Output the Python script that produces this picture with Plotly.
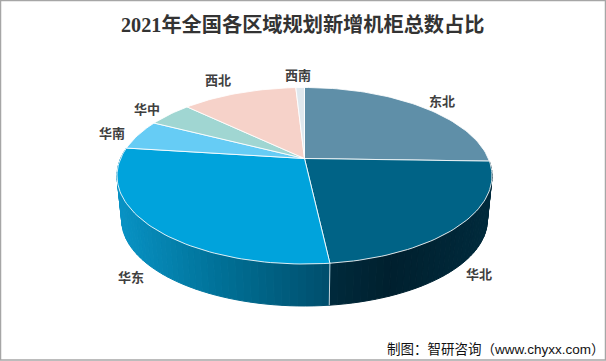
import math
import plotly.graph_objects as go

regions = ["东北", "华北", "华东", "华南", "华中", "西北", "西南"]
shares = [25.5, 22.75, 28.8, 5.5, 4.6, 12.0, 0.9]
top_colors = ["#5F8FA8", "#006386", "#00A3DC", "#66CCF5", "#A0D6D2", "#F6D2C9", "#DFE8EE"]
title_text = "2021年全国各区域规划新增机柜总数占比"
source_text = "制图：智研咨询（www.chyxx.com）"

# label placement in chart pixels
label_xy = {"东北": (442, 100), "华北": (479, 273), "华东": (131, 276), "华南": (112, 132),
            "华中": (147, 108), "西北": (218, 79), "西南": (298, 74)}

# gradient stops for the visible rim (x pixel, colour)
side_stops = {
    "华北": [(330, (0, 42, 60)), (390, (0, 32, 46)), (490, (0, 42, 60))],
    "华东": [(118, (8, 146, 196)), (220, (0, 112, 150)), (330, (0, 78, 108))],
}

CX, CY, A, B, K = 304.5, 158.5, 183.9, 84.9, 0.1955
BOTTOM_SCALE, BOTTOM_CY = 0.975, 203.1


def project(theta, bottom=False):
    px, py = math.sin(theta), -math.cos(theta)
    w = 1 - K * py
    s = BOTTOM_SCALE if bottom else 1.0
    cy = BOTTOM_CY if bottom else CY
    return CX + s * A * px / w, cy + s * B * py / w


def stop_colour(stops, x):
    x = max(stops[0][0], min(stops[-1][0], x))
    for (x0, c0), (x1, c1) in zip(stops, stops[1:]):
        if x <= x1:
            t = (x - x0) / (x1 - x0)
            return "rgb(%d,%d,%d)" % tuple(round(a + (b - a) * t) for a, b in zip(c0, c1))
    return "rgb(%d,%d,%d)" % stops[-1][1]


fig = go.Figure()
total = sum(shares)
bounds = [0.0]
for v in shares:
    bounds.append(bounds[-1] + v / total * 2 * math.pi)

# rim
for name, a0, a1 in zip(regions, bounds, bounds[1:]):
    if name not in side_stops:
        continue
    n = max(8, int((a1 - a0) / math.radians(2)))
    for i in range(n):
        t0 = a0 + (a1 - a0) * i / n
        t1 = a0 + (a1 - a0) * (i + 1) / n
        p = [project(t0), project(t1), project(t1, True), project(t0, True)]
        c = stop_colour(side_stops[name], (p[0][0] + p[1][0]) / 2)
        fig.add_trace(go.Scatter(x=[q[0] for q in p] + [p[0][0]], y=[q[1] for q in p] + [p[0][1]],
                                 mode="lines", fill="toself", fillcolor=c, line=dict(color=c, width=1),
                                 hoverinfo="skip", showlegend=False))

# rim separators between visible faces
for idx, name in enumerate(regions):
    if name == "华北":
        t = bounds[idx + 1]
        a, b = project(t), project(t, True)
        fig.add_trace(go.Scatter(x=[a[0], b[0]], y=[a[1], b[1]], mode="lines",
                                 line=dict(color="#C8D4DA", width=1), hoverinfo="skip", showlegend=False))

# top faces
for name, colour, a0, a1 in zip(regions, top_colors, bounds, bounds[1:]):
    n = max(6, int((a1 - a0) / math.radians(1.5)))
    arc = [project(a0 + (a1 - a0) * i / n) for i in range(n + 1)]
    xs = [CX] + [q[0] for q in arc] + [CX]
    ys = [CY] + [q[1] for q in arc] + [CY]
    fig.add_trace(go.Scatter(x=xs, y=ys, mode="lines", fill="toself", fillcolor=colour,
                             line=dict(color="rgba(255,255,255,0.85)", width=1),
                             hoverinfo="skip", showlegend=False))

anns = [dict(x=label_xy[r][0], y=label_xy[r][1], text="<b>%s</b>" % r, showarrow=False,
             font=dict(family="Noto Sans CJK SC", size=13, color="#404040")) for r in regions]
anns.append(dict(x=302, y=24, text="<b>%s</b>" % title_text, showarrow=False,
                 font=dict(family="Liberation Serif, Noto Sans CJK SC", size=20.2, color="#333333")))
anns.append(dict(x=495.5, y=349, text=source_text, showarrow=False,
                 font=dict(family="Liberation Sans, Noto Sans CJK SC", size=13.5, color="#111111")))

fig.update_layout(
    width=606, height=361, margin=dict(l=0, r=0, t=0, b=0),
    paper_bgcolor="white", plot_bgcolor="white", showlegend=False, annotations=anns,
    xaxis=dict(range=[0, 606], visible=False, fixedrange=True),
    yaxis=dict(range=[361, 0], visible=False, fixedrange=True),
    shapes=[dict(type="rect", xref="x", yref="y", x0=0.5, y0=0.5, x1=605.5, y1=360,
                 line=dict(color="#A6A6A6", width=1.5))],
)
fig.write_html("out.html", config=dict(displayModeBar=False),
               post_script="document.body.style.margin='0';document.body.style.overflow='hidden';")
